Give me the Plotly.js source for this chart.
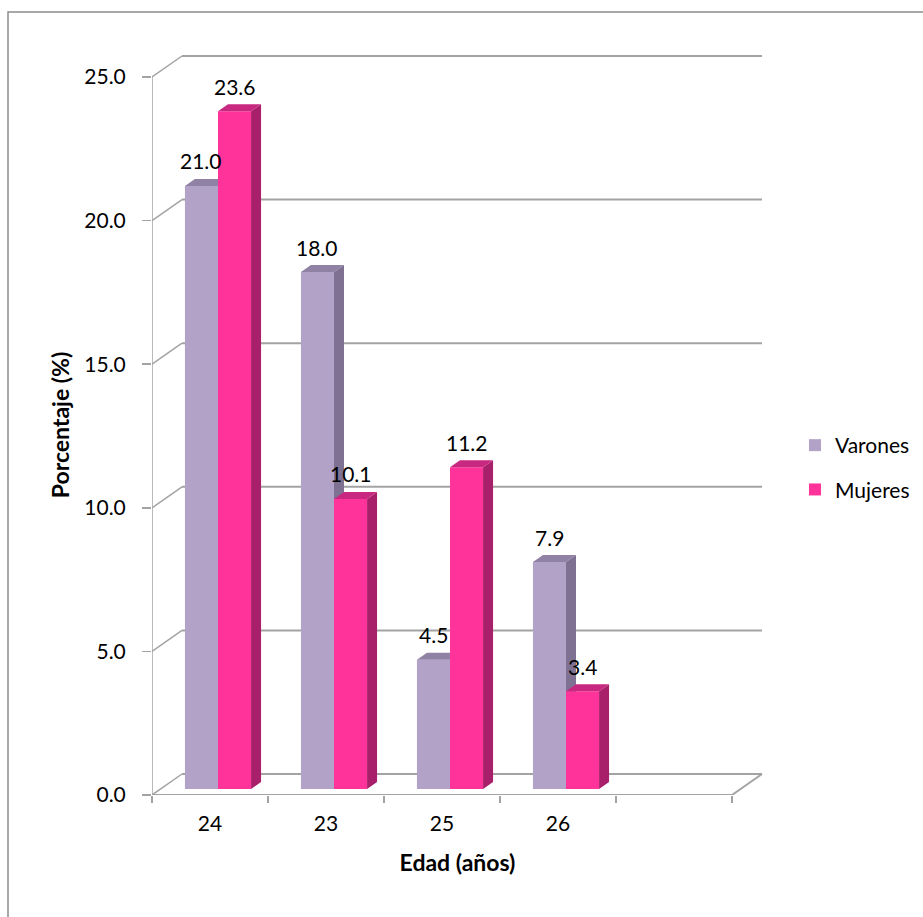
<!DOCTYPE html>
<html>
<head>
<meta charset="utf-8">
<script src="https://cdn.plot.ly/plotly-3.0.1.min.js"></script>
<style>html,body{margin:0;padding:0;background:#fff;}#chart{width:923px;height:917px;}</style>
</head>
<body>
<div id="chart"></div>
<script>
// ---- data ----
const categories = ['24', '23', '25', '26', ''];
const varones = [21.0, 18.0, 4.5, 7.9];
const mujeres = [23.6, 10.1, 11.2, 3.4];
const seriesNames = ['Varones', 'Mujeres'];
const yTickValues = [0, 5, 10, 15, 20, 25];

// ---- geometry (pixels of the plot frame) ----
const L = 152, R = 763, T = 55, B = 795;
const slotPx = 116, unitPx = 28.72;
const xRange = [-0.5, -0.5 + (R - L) / slotPx];
const yRange = [0, (B - T) / unitPx];
const wdx = 30 / slotPx, wdy = 21 / unitPx;      // back wall offset
const ddx = 10 / slotPx, ddy = 7 / unitPx;       // bar depth
const barBase = 6 / unitPx;
const barW = 0.285;
const offV = -0.216, offM = offV + barW;

const FONT = 'Lato, "Open Sans", sans-serif';
const GRID = '#a3a3a3';

const idx = categories.slice(0, varones.length).map((c, i) => i);

function faces(vals, off, xa, ya, cSide, cTop) {
  const tr = [];
  vals.forEach((v, i) => {
    const x0 = idx[i] + off, x1 = x0 + barW;
    const b = barBase, t = barBase + v;
    tr.push({type: 'scatter', mode: 'lines', xaxis: xa, yaxis: ya, fill: 'toself',
      x: [x1, x1 + ddx, x1 + ddx, x1, x1], y: [b, b + ddy, t + ddy, t, b],
      fillcolor: cSide, line: {width: 0, color: cSide}, hoverinfo: 'skip', showlegend: false});
    tr.push({type: 'scatter', mode: 'lines', xaxis: xa, yaxis: ya, fill: 'toself',
      x: [x0, x1, x1 + ddx, x0 + ddx, x0], y: [t, t, t + ddy, t + ddy, t],
      fillcolor: cTop, line: {width: 0, color: cTop}, hoverinfo: 'skip', showlegend: false});
  });
  return tr;
}

const traces = [];
traces.push({type: 'bar', name: seriesNames[0], x: idx, y: varones, base: barBase,
  offset: offV, width: barW, xaxis: 'x', yaxis: 'y', legendgroup: 'a',
  marker: {color: '#b3a2c7', line: {width: 0}}, hoverinfo: 'skip'});
faces(varones, offV, 'x', 'y', '#7e7192', '#8f82a4').forEach(t => traces.push(t));
traces.push({type: 'bar', name: seriesNames[1], x: idx, y: mujeres, base: barBase,
  offset: offM, width: barW, xaxis: 'x2', yaxis: 'y2', legendgroup: 'b',
  marker: {color: '#ff3399', line: {width: 0}}, hoverinfo: 'skip'});
faces(mujeres, offM, 'x2', 'y2', '#a8206a', '#c8287f').forEach(t => traces.push(t));

// ---- frame shapes ----
const shapes = [];
const ln = (x0, y0, x1, y1, w) => ({type: 'line', xref: 'x', yref: 'y', x0, y0, x1, y1,
  layer: 'below', line: {color: GRID, width: w || 2}});
shapes.push(ln(xRange[0], 0, xRange[0], 25, 1.5));
yTickValues.forEach(v => {
  shapes.push(ln(-0.5, v, -0.5 + wdx, v + wdy, 1.5));
  shapes.push(ln(-0.5 + wdx, v + wdy, 4.5 + wdx, v + wdy, 2));
});
shapes.push(ln(-0.5, 0, 4.5, 0, 2));
shapes.push(ln(4.5, 0, 4.5 + wdx, wdy, 2));
// outer chart border (right and bottom edges fall outside the picture)
const px2x = p => (p - L) / (R - L), py2y = p => (B - p) / (B - T);
shapes.push({type: 'rect', xref: 'paper', yref: 'paper', x0: px2x(8), x1: px2x(930),
  y0: py2y(930), y1: py2y(12), layer: 'below', line: {color: '#8c8c8c', width: 1.5}, fillcolor: 'rgba(0,0,0,0)'});

// ---- value labels ----
const annotations = [];
varones.forEach((v, i) => annotations.push({x: idx[i] + offV + barW / 2, y: barBase + v, xref: 'x', yref: 'y',
  text: v.toFixed(1), showarrow: false, yshift: 25, font: {family: FONT, size: 21, color: '#000'}}));
mujeres.forEach((v, i) => annotations.push({x: idx[i] + offM + barW / 2, y: barBase + v, xref: 'x', yref: 'y',
  text: v.toFixed(1), showarrow: false, yshift: 25, font: {family: FONT, size: 21, color: '#000'}}));

const layout = {
  width: 923, height: 917,
  margin: {l: L, r: 923 - R, t: T, b: 917 - B},
  paper_bgcolor: '#fff', plot_bgcolor: 'rgba(0,0,0,0)',
  font: {family: FONT, size: 21, color: '#000'},
  showlegend: true,
  xaxis: {range: xRange, tickmode: 'array', tickvals: categories.map((c, i) => i), ticktext: categories,
    ticks: '', showgrid: false, zeroline: false, showline: false, ticklabelstandoff: 14,
    tickfont: {family: FONT, size: 21, color: '#000'}, fixedrange: true,
    title: {text: 'Edad (años)', font: {family: FONT, size: 23, color: '#000', weight: 'bold'}, standoff: 20}},
  xaxis2: {overlaying: 'x', range: xRange, tickmode: 'array',
    tickvals: categories.map((c, i) => i - 0.5).concat([categories.length - 0.5]),
    ticks: 'outside', ticklen: 7, tickwidth: 1.5, tickcolor: GRID, showticklabels: false,
    showgrid: false, zeroline: false, showline: false, fixedrange: true},
  yaxis: {range: yRange, tickmode: 'array', tickvals: yTickValues, ticktext: yTickValues.map(v => v.toFixed(1)),
    ticks: 'outside', ticklen: 9, tickwidth: 1.5, tickcolor: GRID, ticklabelstandoff: 12,
    showgrid: false, zeroline: false, showline: false, fixedrange: true,
    tickfont: {family: FONT, size: 21, color: '#000'},
    title: {text: 'Porcentaje (%)', font: {family: FONT, size: 23, color: '#000', weight: 'bold'}, standoff: 8}},
  yaxis2: {overlaying: 'y', range: yRange, visible: false, fixedrange: true},
  legend: {xref: 'container', yref: 'container', x: 795 / 923, y: 1 - 425 / 917, xanchor: 'left', yanchor: 'top',
    traceorder: 'grouped', tracegroupgap: 14, font: {family: FONT, size: 21, color: '#000'}, bgcolor: 'rgba(0,0,0,0)'},
  shapes: shapes,
  annotations: annotations
};

Plotly.newPlot('chart', traces, layout, {staticPlot: true, displayModeBar: false});
</script>
</body>
</html>
